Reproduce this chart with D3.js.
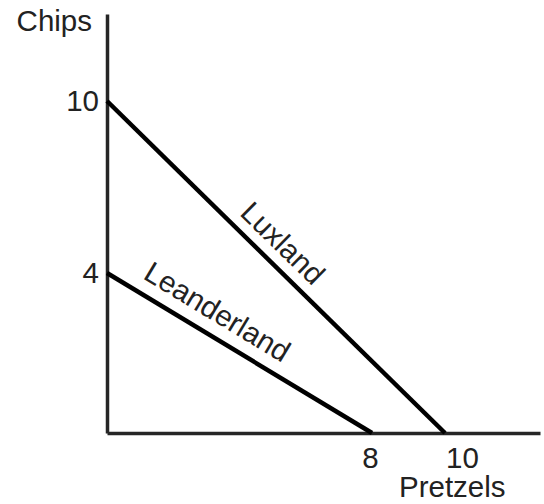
<!DOCTYPE html>
<html>
<head>
<meta charset="utf-8">
<script src="https://cdn.jsdelivr.net/npm/d3@7"></script>
<style>
  body { margin: 0; background: #fff; }
  svg text { font-family: "Liberation Sans", Arial, sans-serif; fill: #222; }
</style>
</head>
<body>
<div id="chart"></div>
<script>
// Data
const countries = ["Luxland", "Leanderland"];
const maxChips = [10, 4];      // y intercept
const maxPretzels = [10, 8];   // x intercept
const chipsTicks = [4, 10];
const pretzelTicks = [8, 10];

const width = 544, height = 504;
const fontSize = 29.5;

// hand-drawn axes: scales are piecewise so ticks sit where the sketch put them
var x = d3.scaleLinear().domain([0, 8, 10, 12.6]).range([107, 372, 445, 540]);
var y = d3.scaleLinear().domain([0, 4, 10, 13]).range([433, 273, 101, 14]);

var svg = d3.select("#chart")
  .append("svg")
  .attr("width", width)
  .attr("height", height);

// Axes
var xAxis = svg.append("g")
  .attr("transform", "translate(0," + y(0) + ")")
  .call(d3.axisBottom(x).tickValues(pretzelTicks).tickSize(0).tickSizeOuter(0).tickPadding(14));

var yAxis = svg.append("g")
  .attr("transform", "translate(" + x(0) + ",0)")
  .call(d3.axisLeft(y).tickValues(chipsTicks).tickSize(0).tickSizeOuter(0).tickPadding(8));

[xAxis, yAxis].forEach(a => {
  a.select(".domain").attr("stroke", "#262626").attr("stroke-width", 3.5);
  a.selectAll("text").attr("font-size", fontSize).attr("font-family", null).attr("fill", "#222");
});

// the 10 on the x axis sits to the right of its crossing
xAxis.selectAll(".tick text").attr("dx", d => d === 10 ? 17 : -2);

// Axis titles
svg.append("text")
  .attr("x", 92)
  .attr("y", 31)
  .attr("text-anchor", "end")
  .attr("font-size", fontSize)
  .text("Chips");

svg.append("text")
  .attr("x", 399)
  .attr("y", 497)
  .attr("font-size", fontSize)
  .text("Pretzels");

// Budget lines
var lines = countries.map((c, i) => ({
  name: c,
  x1: x(0), y1: y(maxChips[i]),
  x2: x(maxPretzels[i]), y2: y(0)
}));

svg.selectAll(".budget")
  .data(lines)
  .enter()
  .append("line")
  .attr("class", "budget")
  .attr("x1", d => d.x1)
  .attr("y1", d => d.y1)
  .attr("x2", d => d.x2)
  .attr("y2", d => d.y2)
  .attr("stroke", "#000")
  .attr("stroke-width", 4.5);

// Labels along each line, a bit above it
const labelAt = [0.475, 0.37];
const labelOff = [22, 24];

svg.selectAll(".lbl")
  .data(lines)
  .enter()
  .append("text")
  .attr("class", "lbl")
  .attr("font-size", fontSize)
  .attr("text-anchor", "middle")
  .attr("dy", "0.35em")
  .attr("transform", (d, i) => {
    var dx = d.x2 - d.x1, dy = d.y2 - d.y1;
    var len = Math.sqrt(dx * dx + dy * dy);
    var ux = dx / len, uy = dy / len;
    var px = d.x1 + dx * labelAt[i] + uy * labelOff[i];
    var py = d.y1 + dy * labelAt[i] - ux * labelOff[i];
    var ang = Math.atan2(dy, dx) * 180 / Math.PI;
    return "translate(" + px + "," + py + ") rotate(" + ang + ")";
  })
  .text(d => d.name);
</script>
</body>
</html>
